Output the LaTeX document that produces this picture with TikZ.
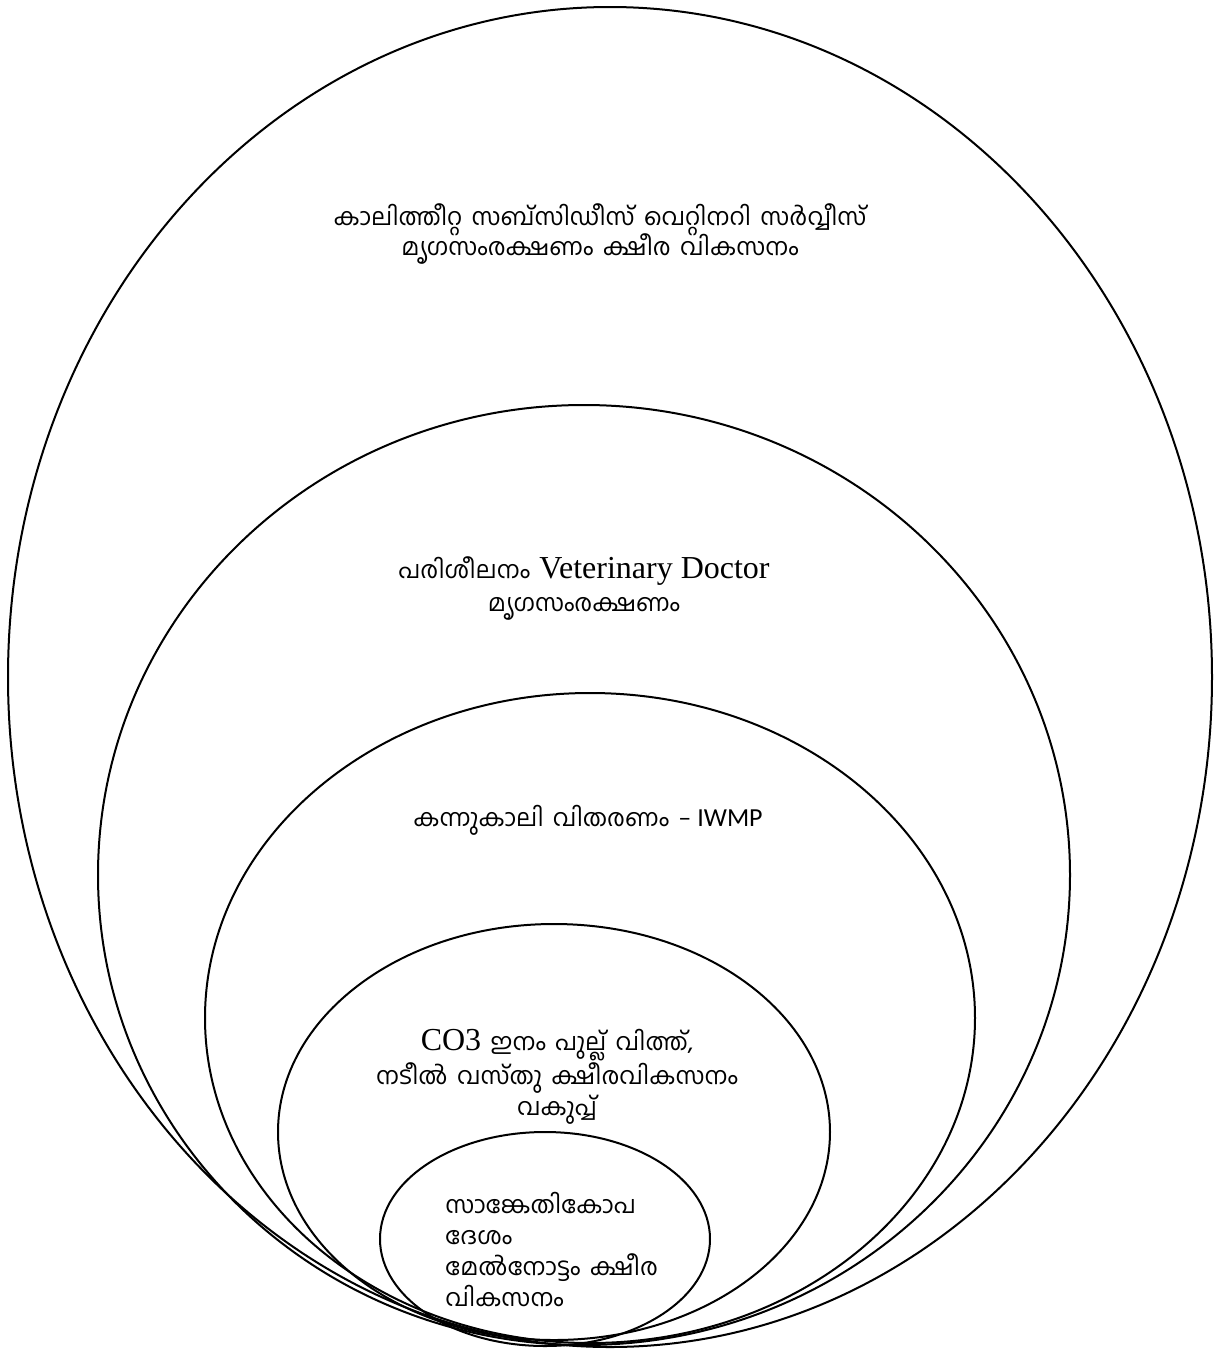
\documentclass[tikz,border=0pt]{standalone}
\usepackage{fontspec}
\newfontfamily\malfont[Script=Malayalam,WordSpace=1.6]{Hind Kochi}
\newfontfamily\tmsfont{Liberation Serif}
\newfontfamily\calfont{Carlito}
\tikzset{
  ring/.style={draw=black, line width=1pt},
  lbl/.style={inner sep=0pt, align=center, font=\malfont\fontsize{12}{13.5}\selectfont},
}
\begin{document}
\begin{tikzpicture}[x=0.5pt,y=-0.5pt]
\useasboundingbox[fill=white] (0,0) rectangle (1215,1351);
% rings
\draw[ring] (610,677) ellipse [x radius=301pt, y radius=335pt];
\draw[ring] (584,875) ellipse [x radius=243pt, y radius=235pt];
\draw[ring] (590,1018) ellipse [x radius=192.5pt, y radius=162.5pt];
\draw[ring] (554,1132) ellipse [x radius=138pt, y radius=104pt];
\draw[ring] (545,1239) ellipse [x radius=82.5pt, y radius=53.5pt];
% texts
\node[lbl] (t1) at (600,234) {കാലിത്തീറ്റ സബ്‌സിഡീസ് വെറ്റിനറി സർവ്വീസ്\\[-2pt]മൃഗസംരക്ഷണം ക്ഷീര വികസനം};
\node[lbl] (t2) at (584,589) {പരിശീലനം {\tmsfont\fontsize{16}{17}\selectfont Veterinary Doctor}\\[3pt]മൃഗസംരക്ഷണം};
\node[lbl] (t3) at (588,820) {കന്നുകാലി വിതരണം {\calfont\fontsize{13}{14}\selectfont – IWMP}};
\node[lbl, font=\malfont\fontsize{12}{15.5}\selectfont] (t4) at (557,1077) {{\tmsfont\fontsize{16}{17}\selectfont CO3} ഇനം പുല്ല് വിത്ത്,\\നടീൽ വസ്‌തു ക്ഷീരവികസനം\\വകുപ്പ്};
\node[lbl, align=left, anchor=west, font=\malfont\fontsize{12}{15.5}\selectfont] (t5) at (445,1249) {സാങ്കേതികോപ\\ദേശം\\മേൽനോട്ടം ക്ഷീര\\വികസനം};
\end{tikzpicture}
\end{document}
